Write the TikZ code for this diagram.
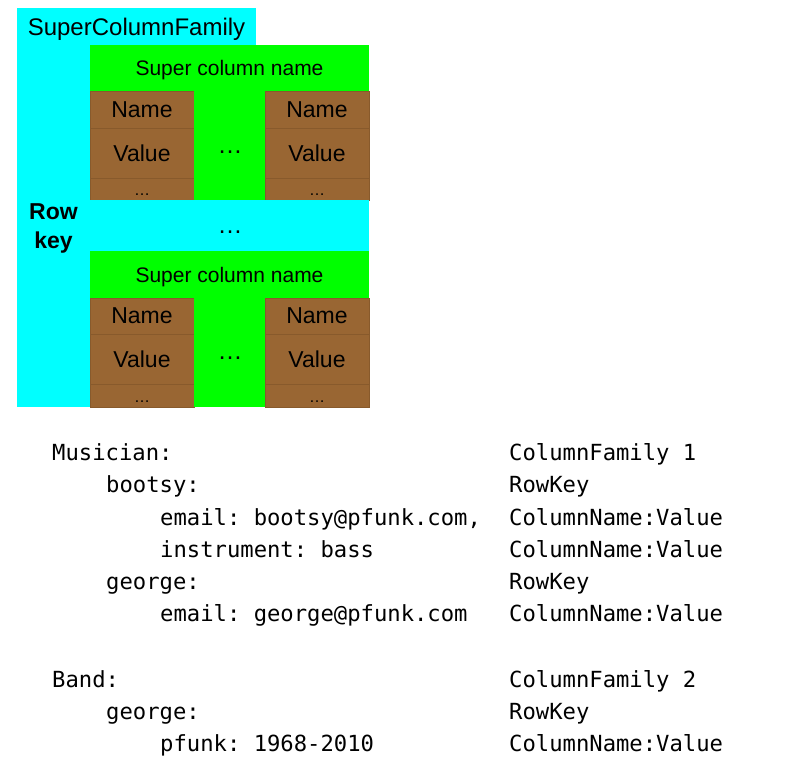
\documentclass[tikz,border=0pt]{standalone}
\usepackage{fontspec}
\setmainfont{Liberation Sans}
\setmonofont{DejaVu Sans Mono}
\usepackage{tikz}
\usetikzlibrary{positioning}
\definecolor{sccyan}{RGB}{0,255,255}
\definecolor{scgreen}{RGB}{0,255,0}
\definecolor{scbrown}{RGB}{153,102,51}
\definecolor{scline}{RGB}{136,90,44}
\tikzstyle{cell} = [rectangle, anchor=north west, inner sep=0pt, outer sep=0pt, text=black, text depth=0pt]
\tikzstyle{cyanbox} = [cell, fill=sccyan]
\tikzstyle{greenbox} = [cell, fill=scgreen, font=\fontsize{21}{24}\selectfont]
\tikzstyle{brownbox} = [cell, fill=scbrown, draw=scline, line width=0.6pt, minimum width=104pt, font=\fontsize{23}{26}\selectfont]
\tikzstyle{bigdots} = [inner sep=0pt, font=\fontsize{25}{28}\selectfont]
\tikzstyle{smalldots} = [inner sep=0pt, font=\fontsize{16}{18}\selectfont]
\tikzstyle{code} = [anchor=base west, inner sep=0pt, font=\fontsize{22.2}{26}\ttfamily]

\begin{document}
\begin{tikzpicture}[x=1pt, y=-1pt]
\useasboundingbox (0,0) rectangle (801,763);
% Column family frame
\node[cyanbox, minimum width=239pt, minimum height=37pt, font=\fontsize{24}{28}\selectfont] (cfam) at (17,8) {SuperColumnFamily};
\node[cyanbox, minimum width=73pt, minimum height=362pt, align=center, font=\fontsize{23}{29}\selectfont\bfseries] (rowkey) at (17,45) {Row\\key};

% Super column 1
\node[greenbox, minimum width=279pt, minimum height=46pt] (scn1) at (90,45) {Super column name};
\node[brownbox, minimum height=37pt] (name1a) at (90,91) {Name};
\node[brownbox, minimum height=50pt, below=0pt of name1a] (value1a) {Value};
\node[brownbox, minimum height=22pt, below=0pt of value1a] (more1a) {};
\node[greenbox, minimum width=71pt, minimum height=109pt] (mid1) at (194,91) {};
\node[brownbox, minimum height=37pt] (name1b) at (265,91) {Name};
\node[brownbox, minimum height=50pt, below=0pt of name1b] (value1b) {Value};
\node[brownbox, minimum height=22pt, below=0pt of value1b] (more1b) {};
\node[bigdots] (dots1) at (230,152) {…};
\node[smalldots] (sdots1a) at (142,195) {…};
\node[smalldots] (sdots1b) at (317,195) {…};

% Gap between super columns
\node[cyanbox, minimum width=279pt, minimum height=51pt] (gap) at (90,200) {};
\node[bigdots] (gapdots) at (230,232) {…};

% Super column 2
\node[greenbox, minimum width=279pt, minimum height=47pt] (scn2) at (90,251) {Super column name};
\node[brownbox, minimum height=36pt] (name2a) at (90,298) {Name};
\node[brownbox, minimum height=50pt, below=0pt of name2a] (value2a) {Value};
\node[brownbox, minimum height=23pt, below=0pt of value2a] (more2a) {};
\node[greenbox, minimum width=71pt, minimum height=109pt] (mid2) at (194,298) {};
\node[brownbox, minimum height=36pt] (name2b) at (265,298) {Name};
\node[brownbox, minimum height=50pt, below=0pt of name2b] (value2b) {Value};
\node[brownbox, minimum height=23pt, below=0pt of value2b] (more2b) {};
\node[bigdots] (dots2) at (230,358) {…};
\node[smalldots] (sdots2a) at (142,402) {…};
\node[smalldots] (sdots2b) at (317,402) {…};

% Example data
\node[code] (musician) at (52,460) {Musician:};
\node[code] (bootsy) at (106,492) {bootsy:};
\node[code] (bmail) at (160,525) {email: bootsy@pfunk.com,};
\node[code] (binstr) at (160,557) {instrument: bass};
\node[code] (george) at (106,589) {george:};
\node[code] (gmail) at (160,621) {email: george@pfunk.com};
\node[code] (band) at (52,687) {Band:};
\node[code] (bgeorge) at (106,719) {george:};
\node[code] (pfunk) at (160,751) {pfunk: 1968-2010};

% Legend column
\node[code] (cf1) at (509,460) {ColumnFamily 1};
\node[code] (rk1) at (509,492) {RowKey};
\node[code] (cv1) at (509,525) {ColumnName:Value};
\node[code] (cv2) at (509,557) {ColumnName:Value};
\node[code] (rk2) at (509,589) {RowKey};
\node[code] (cv3) at (509,621) {ColumnName:Value};
\node[code] (cf2) at (509,687) {ColumnFamily 2};
\node[code] (rk3) at (509,719) {RowKey};
\node[code] (cv4) at (509,751) {ColumnName:Value};
\end{tikzpicture}
\end{document}
